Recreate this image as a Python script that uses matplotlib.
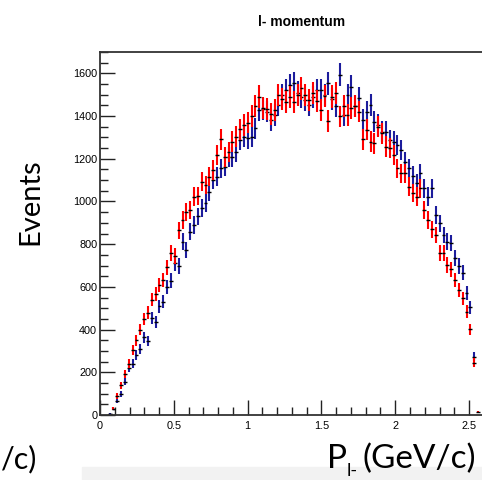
import numpy as np
import matplotlib
matplotlib.use("Agg")
from matplotlib import pyplot as plt
from matplotlib.ticker import MultipleLocator, FormatStrFormatter

# l- momentum histograms, 100 bins from 0 to 2.6 GeV/c
nbins = 100
p_lo, p_hi = 0.0, 2.6

red = [0, 0, 3, 30, 90, 140, 190, 240, 305, 350,
       400, 450, 480, 540, 567, 610, 632, 692, 760, 745,
       866, 913, 952, 960, 1023, 1026, 1093, 1077, 1116, 1148,
       1218, 1291, 1210, 1233, 1280, 1304, 1338, 1358, 1369, 1400,
       1447, 1491, 1436, 1432, 1410, 1429, 1499, 1479, 1467, 1490,
       1467, 1499, 1530, 1499, 1475, 1507, 1470, 1429, 1494, 1377,
       1491, 1507, 1398, 1445, 1405, 1436, 1445, 1421, 1291, 1335,
       1280, 1272, 1351, 1319, 1257, 1249, 1218, 1155, 1132, 1132,
       1069, 1040, 1023, 1061, 960, 913, 870, 843, 760, 757,
       703, 682, 632, 585, 546, 484, 401, 245, 15, 0]

blue = [0, 0, 5, 30, 65, 100, 155, 220, 240, 281,
        308, 365, 347, 453, 437, 510, 531, 601, 629, 710,
        698, 812, 773, 859, 890, 930, 968, 991, 1046, 1101,
        1116, 1155, 1163, 1210, 1207, 1233, 1288, 1304, 1296, 1304,
        1343, 1429, 1432, 1421, 1382, 1405, 1452, 1499, 1522, 1546,
        1553, 1510, 1491, 1475, 1452, 1490, 1522, 1522, 1500, 1553,
        1480, 1445, 1593, 1405, 1499, 1538, 1445, 1483, 1382, 1420,
        1452, 1374, 1358, 1327, 1327, 1288, 1280, 1265, 1241, 1187,
        1155, 1120, 1085, 1132, 1061, 1023, 1061, 937, 898, 843,
        812, 804, 734, 698, 667, 570, 504, 273, 0, 0]

edges = np.linspace(p_lo, p_hi, nbins + 1)
centers = 0.5 * (edges[:-1] + edges[1:])
half_w = 0.5 * (edges[1] - edges[0])

fig = plt.figure(figsize=(4.82, 4.80), dpi=100)

# grey strip at the bottom of the slide
fig.patches.append(plt.Rectangle((0.17, 0), 0.83, 13 / 480, transform=fig.transFigure,
                                 color='#f2f2f2', zorder=0))

ax = fig.add_axes([100 / 482, 65 / 480, 383.8 / 482, 363 / 480])

for vals, col in [(blue, '#1c1c9c'), (red, '#ff0000')]:
    v = np.array(vals, dtype=float)
    m = v > 0
    err = 1.35 * np.sqrt(v[m])
    ax.errorbar(centers[m], v[m], yerr=err, fmt='none', ecolor=col,
                elinewidth=1.5, capsize=0)
    ax.errorbar(centers[m], v[m], xerr=half_w, fmt='none', ecolor='black',
                elinewidth=1.0, capsize=0)

ax.set_xlim(p_lo, p_hi)
ax.set_ylim(0, 1700)

ax.xaxis.set_major_locator(MultipleLocator(0.5))
ax.xaxis.set_minor_locator(MultipleLocator(0.1))
ax.yaxis.set_major_locator(MultipleLocator(200))
ax.yaxis.set_minor_locator(MultipleLocator(50))
ax.xaxis.set_major_formatter(FormatStrFormatter('%g'))
ax.yaxis.set_major_formatter(FormatStrFormatter('%g'))

ax.tick_params(which='both', direction='in', top=False, right=False,
               labelsize=7.8, color='#222222', width=1.0)
ax.tick_params(axis='y', which='major', length=11, pad=2)
ax.tick_params(axis='y', which='minor', length=6)
ax.tick_params(axis='x', which='major', length=11, pad=4)
ax.tick_params(axis='x', which='minor', length=6)
for lab in ax.get_xticklabels() + ax.get_yticklabels():
    lab.set_fontfamily('Liberation Sans')

for s in ax.spines.values():
    s.set_linewidth(1.3)
    s.set_color('#333333')

fig.text(302 / 482, 1 - 22 / 480, 'l- momentum', ha='center', va='center',
         fontsize=10, fontweight='bold', family='Liberation Sans')

fig.text(30 / 482, 1 - 202 / 480, 'Events', rotation=90, ha='center', va='center',
         fontsize=21, family='Lato')

# x-axis label of this panel: P, subscript l-, then units
fig.text(327 / 482, 1 - 468 / 480, 'P', ha='left', va='baseline',
         fontsize=24, family='Lato')
fig.text(347 / 482, 1 - 476 / 480, 'l-', ha='left', va='baseline',
         fontsize=13, family='Lato')
fig.text(476 / 482, 1 - 468 / 480, '(GeV/c)', ha='right', va='baseline',
         fontsize=24, family='Lato')
# tail of the neighbouring panel's label
fig.text(1 / 482, 1 - 468 / 480, '/c)', ha='left', va='baseline',
         fontsize=22, family='Lato')

fig.savefig('out.png', dpi=100)
